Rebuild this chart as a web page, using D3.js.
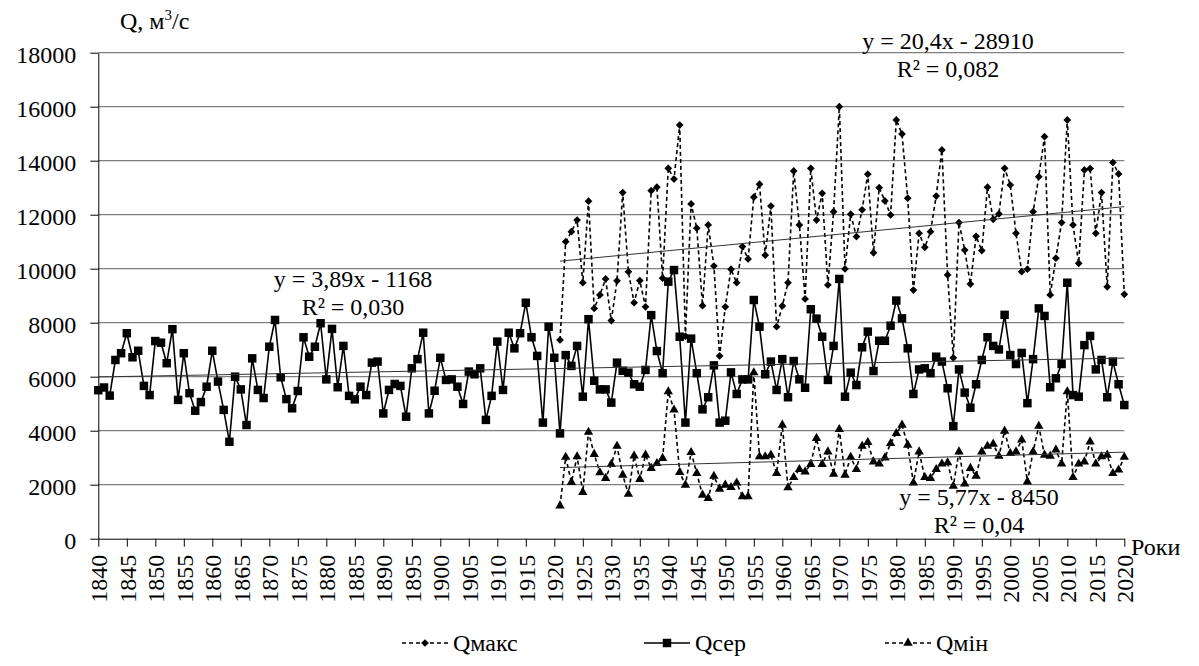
<!DOCTYPE html>
<html>
<head>
<meta charset="utf-8">
<script src="https://cdn.jsdelivr.net/npm/d3@7"></script>
<style>
  body { margin: 0; background: #fff; }
</style>
</head>
<body>
<script>
// mean discharge, 1840-2020
const serStart = 1840;
const qSer = [
  5500, 5600, 5300, 6620, 6870, 7610, 6720, 6960, 5660, 5320,
  7320, 7260, 6500, 7760, 5140, 6870, 5390, 4740, 5060, 5630,
  6960, 5820, 4770, 3590, 6000, 5530, 4210, 6680, 5510, 5210,
  7110, 8100, 5980, 5170, 4830, 5470, 7460, 6740, 7110, 7980,
  5900, 7770, 5610, 7140, 5290, 5160, 5630, 5320, 6520, 6560,
  4640, 5510, 5730, 5660, 4520, 6310, 6650, 7630, 4640, 5480,
  6700, 5880, 5900, 5630, 4990, 6190, 6090, 6310, 4400, 5290,
  7300, 5510, 7630, 7050, 7610, 8740, 7460, 6770, 4300, 7850,
  6700, 3900, 6800, 6400, 7140, 5260, 8130, 5850, 5530, 5530,
  5040, 6520, 6220, 6150, 5720, 5630, 6250, 8280, 6950, 6130,
  9520, 9950, 7480, 4300, 7410, 6130, 4790, 5240, 6420, 4300,
  4370, 6160, 5360, 5900, 5900, 8840, 7850, 6090, 6560, 5510,
  6650, 5240, 6580, 5900, 5590, 8500, 8150, 7480, 5880, 7140,
  9620, 5260, 6150, 5690, 7090, 7670, 6210, 7330, 7330, 7890,
  8820, 8160, 7050, 5360, 6270, 6310, 6130, 6740, 6560, 5570,
  4170, 6270, 5410, 4850, 5720, 6620, 7460, 7140, 7010, 8290,
  6800, 6470, 6880, 5020, 6650, 8530, 8250, 5610, 5940, 6470,
  9480, 5320, 5260, 7170, 7510, 6270, 6620, 5240, 6560, 5720,
  4950
];

// max and min discharge, 1921-2020
const extStart = 1921;
const qMax = [
  7360, 11000, 11370, 11800, 9480, 12500, 8530, 9030, 9620,
  8080, 9550, 12820, 9890, 8740, 9560, 8590, 12890, 13020, 9650,
  13720, 13320, 15320, 7500, 12400, 11500, 8630, 11620, 10100, 6770,
  8590, 9980, 9480, 10820, 10360, 12650, 13130, 10500, 12320, 7850,
  8620, 9480, 13620, 11620, 8880, 13720, 11800, 12790, 9400, 12110,
  16000, 9990, 12020, 11190, 12180, 13500, 10590, 13000, 12510, 11990,
  15510, 14990, 12610, 9210, 11310, 10790, 11370, 12690, 14400, 9770,
  6700, 11710, 10690, 9430, 11200, 10670, 13020, 11830, 12030, 13720,
  13100, 11310, 9890, 9980, 12110, 13410, 14890, 9030, 10390, 11710,
  15510, 11620, 10200, 13660, 13710, 11310, 12820, 9330, 13930, 13510,
  9050
];
const qMin = [
  1220, 3020, 2090, 3040, 1720, 3950, 3130, 2450, 2240,
  2760, 3430, 2360, 1650, 3070, 2200, 3100, 2610, 2790, 2980,
  5450, 4770, 2460, 1990, 3200, 2420, 1620, 1500, 2320, 1840,
  1990, 1900, 2070, 1560, 1560, 6150, 3040, 3040, 3100, 2420,
  4210, 1890, 2270, 2570, 2480, 2760, 3720, 2760, 3220, 2390,
  4050, 2360, 3020, 2570, 3430, 3570, 2850, 2770, 3000, 3530,
  3900, 4210, 3470, 2070, 3220, 2270, 2240, 2570, 2770, 2820,
  1950, 3220, 2030, 2610, 2320, 3220, 3430, 3510, 3060, 3990,
  3160, 3220, 3660, 2110, 3220, 4170, 3100, 3060, 3290, 2770,
  5450, 2270, 2770, 2850, 3590, 2770, 3040, 3100, 2420, 2550,
  3020
];

// linear trends as printed on the chart: [slope, intercept, R2, from, to]
const trendSer = [3.89, -1168, "0,030", 1840, 2020];
const trendMax = [20.4, -28910, "0,082", 1921, 2020];
const trendMin = [5.77, -8450, "0,04", 1921, 2020];

const yTicks = [0, 2000, 4000, 6000, 8000, 10000, 12000, 14000, 16000, 18000];
const xTicks = d3.range(1840, 2021, 5);

const FONT = "'Liberation Serif', 'Times New Roman', Tinos, 'DejaVu Serif', serif";
const W = 1199, H = 666;
const svg = d3.select("body").append("svg")
  .attr("width", W).attr("height", H)
  .attr("font-family", FONT);

const x = d3.scaleLinear().domain([1840, 2020]).range([98.3, 1124.3]);
const y = d3.scaleLinear().domain([0, 18000]).range([538.7, 52.7]);

const toPts = (arr, start) => arr.map((v, i) => ({year: start + i, v: v}));
const ser = toPts(qSer, serStart);
const mx = toPts(qMax, extStart);
const mn = toPts(qMin, extStart);

// gridlines
svg.append("g").selectAll("line")
  .data(yTicks.filter(d => d > 0))
  .join("line")
  .attr("x1", x(1840)).attr("x2", x(2020))
  .attr("y1", d => y(d)).attr("y2", d => y(d))
  .attr("stroke", "#808080").attr("stroke-width", 1.3);

// axes
const yAxis = svg.append("g")
  .attr("transform", `translate(${x(1840)},0)`)
  .call(d3.axisLeft(y).tickValues(yTicks).tickSize(8).tickSizeOuter(0).tickPadding(14).tickFormat(d3.format("d")));
yAxis.attr("font-family", FONT).attr("font-size", 24);
yAxis.selectAll("text").attr("dy", "0.4em");

const xAxis = svg.append("g")
  .attr("transform", `translate(0,${y(0)})`)
  .call(d3.axisBottom(x).tickValues(xTicks).tickSize(8).tickSizeOuter(0).tickFormat(d3.format("d")));
xAxis.attr("font-family", FONT).attr("font-size", 24);
xAxis.selectAll("text")
  .attr("transform", "rotate(-90)")
  .attr("text-anchor", "end")
  .attr("x", -16).attr("y", 0).attr("dy", "0.35em");
svg.selectAll(".domain").attr("stroke", "#000");
svg.selectAll(".tick line").attr("stroke", "#000");

const line = d3.line().x(d => x(d.year)).y(d => y(d.v));

const diamond = d3.symbol().type(d3.symbolSquare).size(30)();
const square = d3.symbol().type(d3.symbolSquare).size(72)();
const tri = d3.symbol().type(d3.symbolTriangle).size(38)();

function drawSeries(pts, dash, path, rot) {
  svg.append("path").datum(pts)
    .attr("d", line).attr("fill", "none")
    .attr("stroke", "#000").attr("stroke-width", 1.6)
    .attr("stroke-dasharray", dash);
  svg.append("g").selectAll("path")
    .data(pts).join("path")
    .attr("d", path)
    .attr("transform", d => `translate(${x(d.year)},${y(d.v)}) rotate(${rot})`)
    .attr("fill", "#000");
}
drawSeries(mx, "4,3", diamond, 45);
drawSeries(ser, null, square, 0);
drawSeries(mn, "4,3", tri, 0);

// trend lines
[trendSer, trendMax, trendMin].forEach(t => {
  svg.append("line")
    .attr("x1", x(t[3])).attr("y1", y(t[0] * t[3] + t[1]))
    .attr("x2", x(t[4])).attr("y2", y(t[0] * t[4] + t[1]))
    .attr("stroke", "#333").attr("stroke-width", 1);
});

// trend labels
function eqLabel(t, cx, by) {
  const fmt = v => String(v).replace(".", ",");
  const g = svg.append("g").attr("font-size", 24).attr("text-anchor", "middle");
  g.append("text").attr("x", cx).attr("y", by)
    .text(`y = ${fmt(t[0])}x - ${Math.abs(t[1])}`);
  g.append("text").attr("x", cx).attr("y", by + 28)
    .text(`R² = ${t[2]}`);
}
eqLabel(trendSer, 353, 287);
eqLabel(trendMax, 948, 49);
eqLabel(trendMin, 979, 505);

// axis titles
const qt = svg.append("text").attr("x", 120).attr("y", 29).attr("font-size", 24);
qt.append("tspan").text("Q, м");
qt.append("tspan").text("3").attr("font-size", 15).attr("dy", -9);
qt.append("tspan").text("/с").attr("dy", 9);

svg.append("text").attr("x", 1131).attr("y", 555).attr("font-size", 24).text("Роки");

// legend
const legend = [
  {name: "Qмакс", x0: 402, dash: "4,3", path: diamond, rot: 45},
  {name: "Qсер", x0: 644, dash: null, path: square, rot: 0},
  {name: "Qмін", x0: 885, dash: "4,3", path: tri, rot: 0}
];
const ly = 643;
const lg = svg.append("g").selectAll("g").data(legend).join("g");
lg.append("line")
  .attr("x1", d => d.x0).attr("x2", d => d.x0 + 46)
  .attr("y1", ly).attr("y2", ly)
  .attr("stroke", "#000").attr("stroke-width", 1.6)
  .attr("stroke-dasharray", d => d.dash);
lg.append("path")
  .attr("d", d => d.path)
  .attr("transform", d => `translate(${d.x0 + 23},${ly}) rotate(${d.rot})`)
  .attr("fill", "#000");
lg.append("text")
  .attr("x", d => d.x0 + 51).attr("y", ly + 8)
  .attr("font-size", 24)
  .text(d => d.name);
</script>
</body>
</html>
